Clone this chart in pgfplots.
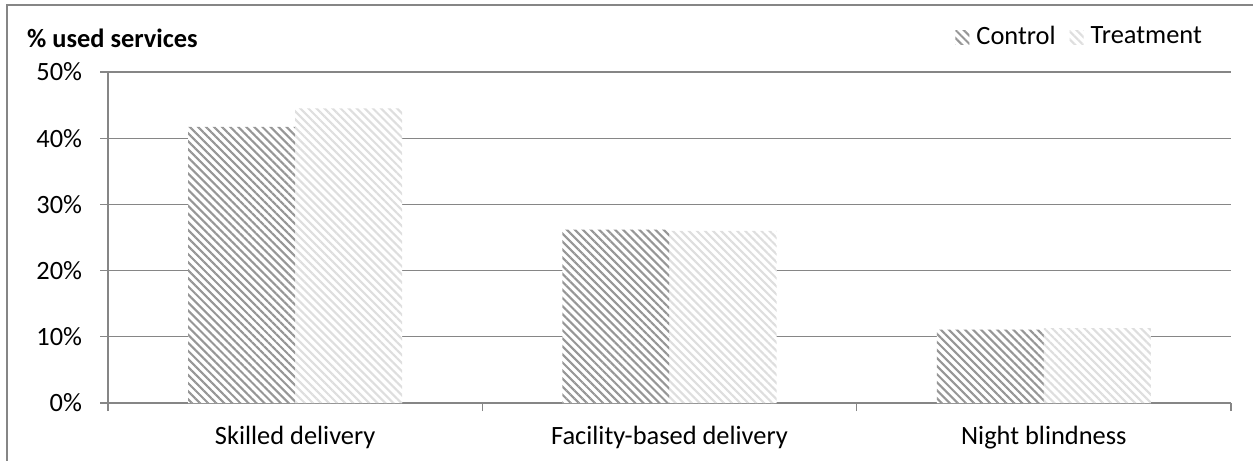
\documentclass[border=0pt]{standalone}
\usepackage{pgfplots}
\pgfplotsset{compat=1.18}
\usetikzlibrary{patterns.meta}
\usepackage{fontspec}
\setmainfont{Carlito}

\definecolor{axisgray}{RGB}{134,134,134}
\definecolor{ctrlstripe}{RGB}{150,150,150}
\definecolor{trtstripe}{RGB}{222,222,222}

\begin{document}
\fontsize{26.5}{31}\selectfont
\begin{tikzpicture}
  \useasboundingbox (0,0) rectangle (1253bp,-461bp);
  % outer frame (left and top edges only visible)
  \draw[axisgray, line width=1.5bp] (7bp,-461bp) -- (7bp,-5bp) -- (1253bp,-5bp);

  \begin{axis}[
      at={(108bp,-403bp)}, anchor=south west,
      scale only axis,
      width=1123bp, height=331bp,
      xmin=0, xmax=3,
      ymin=0, ymax=0.5,
      axis x line*=bottom,
      axis y line*=left,
      axis line style={axisgray, line width=1.3bp},
      every tick/.style={axisgray, line width=1.3bp},
      tick align=outside,
      major tick length=8bp,
      xtick={0,1,2,3},
      xticklabels={},
      extra x ticks={0.5,1.5,2.5},
      extra x tick labels={Skilled delivery,Facility-based delivery,Night blindness},
      extra x tick style={major tick length=0pt, grid=none,
        xticklabel style={yshift=-14bp}},
      ytick={0,0.1,0.2,0.3,0.4,0.5},
      yticklabels={0\%,10\%,20\%,30\%,40\%,50\%},
      yticklabel style={xshift=-9bp},
      ymajorgrids,
      major grid style={axisgray, line width=1.3bp},
      ybar=0pt,
      bar width=107bp,
      legend columns=2,
      legend style={draw=none, fill=none, inner sep=0pt,
        at={(axis description cs:0.976,1.105)}, anchor=east,
        /tikz/every odd column/.append style={column sep=5bp},
        /tikz/every even column/.append style={column sep=12bp}},
      legend image code/.code={
        \path[#1] (0bp,-7bp) rectangle (14bp,7bp);
      },
    ]
    % control
    \addplot[draw=none, fill=white,
      postaction={pattern={Lines[angle=-45, distance=5.7bp, line width=2.1bp]},
                  pattern color=ctrlstripe}]
      coordinates {(0.5,0.417) (1.5,0.262) (2.5,0.111)};
    % treatment
    \addplot[draw=none, fill=white,
      postaction={pattern={Lines[angle=-45, distance=5.7bp, line width=2.1bp]},
                  pattern color=trtstripe}]
      coordinates {(0.5,0.445) (1.5,0.260) (2.5,0.113)};
    \legend{Control, Treatment}
  \end{axis}

  \node[anchor=west, font=\bfseries, inner sep=0pt] at (27bp,-38bp) {\% used services};
\end{tikzpicture}
\end{document}
